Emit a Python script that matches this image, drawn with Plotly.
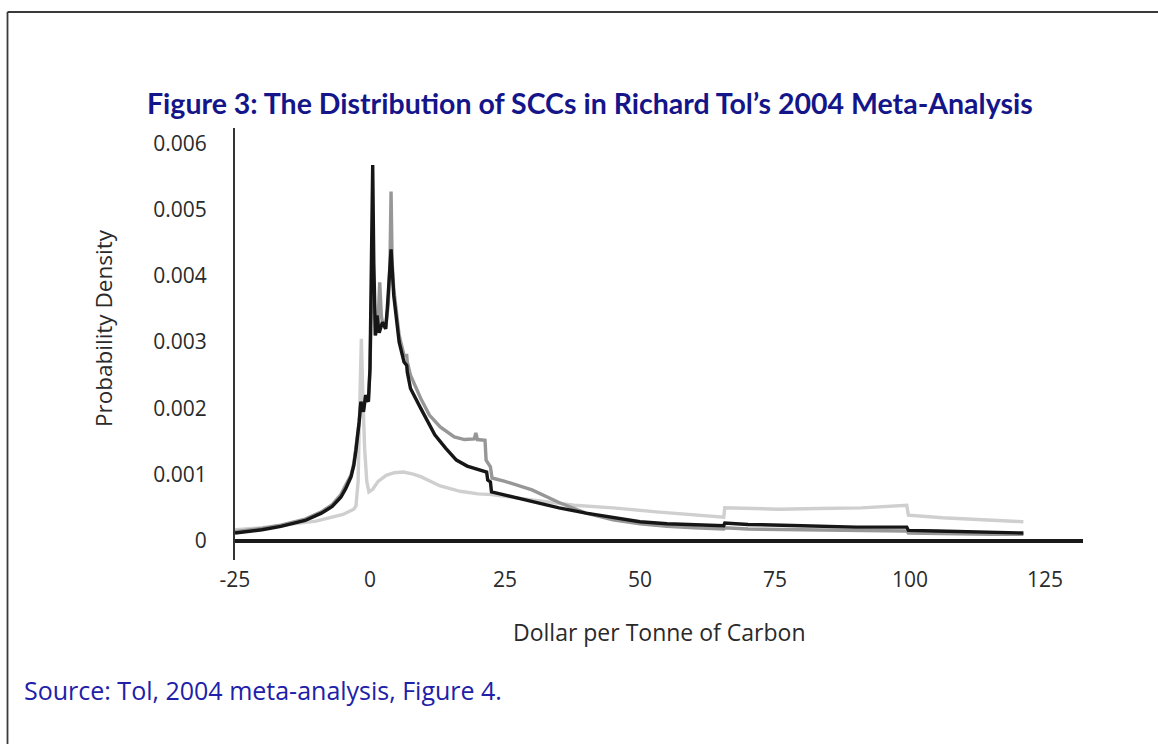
import plotly.graph_objects as go

# ---------------- data ----------------
black_x = [-25, -20, -16.5, -12, -9, -7, -5.4, -4.5, -3.5, -3.0, -2.6, -2.2, -2.0, -1.7, -1.2, -0.8, -0.3,
           0.0, 0.3, 0.5, 0.7, 1.0, 1.3, 1.7, 2.3, 2.9, 3.2, 3.6, 3.9, 4.4, 5.4, 6.3, 6.8, 6.9, 7.5, 9.4,
           12, 14, 16, 18, 20, 21.6, 21.8, 22.3, 22.5, 25, 30, 35, 40, 45, 50, 55, 60, 65.5, 65.7,
           70, 80, 90, 99.4, 99.7, 105, 110, 115, 121]
black_y = [0.00012, 0.00017, 0.00022, 0.00031, 0.00042, 0.00052, 0.00066, 0.00079, 0.00097, 0.00114, 0.00137,
           0.00162, 0.0018, 0.0021, 0.00195, 0.0022, 0.0021,
           0.0026, 0.0045, 0.00567, 0.0042, 0.0031, 0.0034, 0.00314, 0.0033, 0.0032, 0.0035, 0.0040, 0.0044,
           0.0037, 0.0030, 0.0027, 0.00265, 0.00255, 0.0023, 0.0020,
           0.0016, 0.0014, 0.00122, 0.00113, 0.00108, 0.00104, 0.00092, 0.00089, 0.00074, 0.00069, 0.0006,
           0.0005, 0.00042, 0.00035, 0.00029, 0.00026, 0.00024, 0.00023, 0.00027,
           0.00025, 0.00023, 0.00021, 0.00021, 0.00016, 0.00015, 0.00014, 0.00013, 0.00012]

mid_x = [-25, -20, -16.5, -12, -9, -7, -5.4, -4.5, -3.5, -3.0, -2.6, -2.2, -2.0, -1.7, -1.2, -0.8, -0.3,
         0.0, 0.3, 0.5, 0.7, 1.0, 1.5, 1.8, 2.1, 2.3, 2.9, 3.4, 3.7, 3.9, 4.1, 4.4, 5.4, 6.3, 6.8, 6.9,
         7.5, 9.4, 11, 13, 15.6, 17.5, 19.3, 19.6, 19.9, 21.3, 21.5, 22.3, 22.6, 25, 30, 35, 40, 45, 50,
         55, 60, 65.5, 65.7, 70, 80, 90, 99.4, 99.7, 105, 110, 115, 121]
mid_y = [0.00014, 0.00019, 0.00024, 0.00033, 0.00044, 0.00055, 0.0007, 0.00083, 0.001, 0.00117, 0.0014,
         0.00165, 0.0018, 0.0021, 0.002, 0.0022, 0.0021,
         0.0026, 0.0038, 0.0045, 0.0038, 0.0031, 0.0033, 0.0039, 0.0034, 0.0033, 0.0032, 0.0036, 0.0042,
         0.00527, 0.0042, 0.0038, 0.0031, 0.0028, 0.0028, 0.0027,
         0.0025, 0.00215, 0.0019, 0.00172, 0.00157, 0.00153, 0.00154, 0.00163, 0.00153, 0.00152, 0.00122,
         0.00112, 0.00095, 0.0009, 0.00077, 0.00058, 0.00042, 0.00032, 0.00026,
         0.00022, 0.0002, 0.00018, 0.0002, 0.00018, 0.00017, 0.00016, 0.00015, 0.00012, 0.00011, 0.00011,
         0.0001, 0.0001]

light_x = [-25, -20, -15, -10, -5, -3.0, -2.6, -2.2, -2.0, -1.8, -1.6, -1.4, -1.0, -0.6, -0.2,
           0.5, 1.5, 3.0, 4.5, 6.2, 8, 9.4, 13, 16.7, 20, 22.6, 26, 30, 37.8, 45, 53, 60, 65.5, 65.7,
           70, 75.7, 83, 91, 99.4, 99.7, 106, 113, 121]
light_y = [0.00017, 0.0002, 0.00025, 0.0003, 0.0004, 0.00048, 0.00053, 0.0009, 0.0017, 0.0026, 0.00305,
           0.0024, 0.0014, 0.0009, 0.00074,
           0.00078, 0.0009, 0.00099, 0.00103, 0.00104, 0.00101, 0.00097, 0.00083, 0.00075, 0.00071, 0.0007,
           0.00066, 0.00062, 0.00054, 0.0005, 0.00044, 0.0004, 0.00036, 0.0005,
           0.00049, 0.00048, 0.00049, 0.0005, 0.00054, 0.00039, 0.00035, 0.00032, 0.00029]

x_tick_vals = [-25, 0, 25, 50, 75, 100, 125]
x_tick_text = ["-25", "0", "25", "50", "75", "100", "125"]
y_tick_vals = [0, 0.001, 0.002, 0.003, 0.004, 0.005, 0.006]
y_tick_text = ["0", "0.001", "0.002", "0.003", "0.004", "0.005", "0.006"]

title_text = "Figure 3: The Distribution of SCCs in Richard Tol\u2019s 2004 Meta-Analysis"
x_title = "Dollar per Tonne of Carbon"
y_title = "Probability Density"
source_text = "Source: Tol, 2004 meta-analysis, Figure 4."

# ---------------- layout geometry ----------------
W, H = 1158, 744
L, R, T, B = 235, 1083, 128, 560


def px_x(p):
    return (p - L) / (R - L)


def px_y(p):
    return (B - p) / (B - T)


FONT = "Open Sans"
TXT = "#2a2a2a"

fig = go.Figure()
fig.add_trace(go.Scatter(x=light_x, y=light_y, mode="lines",
                         line=dict(color="#cfcfcf", width=3.4), hoverinfo="skip"))
fig.add_trace(go.Scatter(x=mid_x, y=mid_y, mode="lines",
                         line=dict(color="#979797", width=3.4), hoverinfo="skip"))
fig.add_trace(go.Scatter(x=black_x, y=black_y, mode="lines",
                         line=dict(color="#161616", width=3.4), hoverinfo="skip"))

fig.update_layout(
    width=W, height=H,
    margin=dict(l=L, r=W - R, t=T, b=H - B, pad=0),
    paper_bgcolor="white", plot_bgcolor="white",
    showlegend=False,
    font=dict(family=FONT, color=TXT),
    xaxis=dict(range=[-25, -25 + (R - L) / 5.4], showgrid=False, zeroline=False, showline=False,
               tickvals=x_tick_vals, ticktext=x_tick_text, ticks="",
               tickfont=dict(size=21, family=FONT, color=TXT), ticklabelstandoff=5),
    yaxis=dict(range=[-(B - 541) / 66300, (541 - T) / 66300], showgrid=False,
               zeroline=True, zerolinecolor="#1a1a1a", zerolinewidth=3.5,
               showline=True, linecolor="#333333", linewidth=2,
               tickvals=y_tick_vals, ticktext=y_tick_text, ticks="",
               tickfont=dict(size=21, family=FONT, color=TXT), ticklabelstandoff=22),
)

annotations = [
    dict(text="<b>" + title_text + "</b>", x=px_x(590), y=px_y(103), xref="paper", yref="paper",
         xanchor="center", yanchor="middle", showarrow=False,
         font=dict(family="Lato", size=28.5, color="#15158a")),
    dict(text=x_title, x=px_x(659), y=px_y(632), xref="paper", yref="paper",
         xanchor="center", yanchor="middle", showarrow=False,
         font=dict(family=FONT, size=23, color=TXT)),
    dict(text=y_title, x=px_x(103), y=px_y(328), xref="paper", yref="paper",
         xanchor="center", yanchor="middle", showarrow=False, textangle=-90,
         font=dict(family=FONT, size=22.5, color=TXT)),
    dict(text=source_text, x=px_x(22), y=px_y(690), xref="paper", yref="paper",
         xanchor="left", yanchor="middle", showarrow=False,
         font=dict(family=FONT, size=25, color="#2020a8")),
]
fig.update_layout(annotations=annotations)

shapes = [
    dict(type="line", xref="paper", yref="paper", x0=px_x(7.5), x1=px_x(1170), y0=px_y(12), y1=px_y(12),
         line=dict(color="#3a3a3a", width=1.8)),
    dict(type="line", xref="paper", yref="paper", x0=px_x(7.5), x1=px_x(7.5), y0=px_y(12), y1=px_y(760),
         line=dict(color="#3a3a3a", width=1.8)),
]
fig.update_layout(shapes=shapes)

fig.write_html("out.html", config={"displayModeBar": False},
               post_script="document.body.style.margin='0px';")
